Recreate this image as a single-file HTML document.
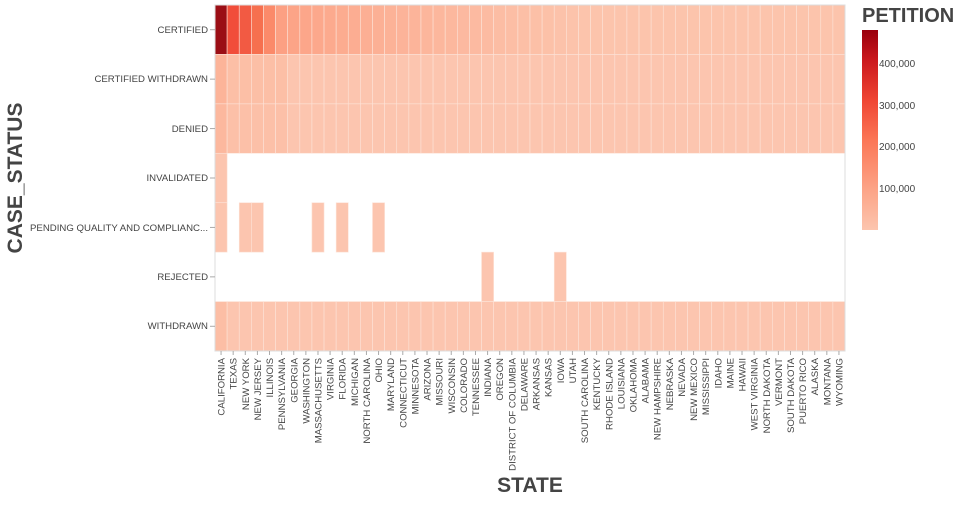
<!DOCTYPE html>
<html><head><meta charset="utf-8"><style>
body{margin:0;background:#fff;width:960px;height:500px;overflow:hidden}
svg{font-family:"Liberation Sans",sans-serif}
.xl{font-size:9.6px;fill:#444}
.yl{font-size:9.6px;fill:#444}
</style></head><body>
<svg id="s" width="960" height="500" xmlns="http://www.w3.org/2000/svg">
<defs><linearGradient id="cb" x1="0" y1="1" x2="0" y2="0">
<stop offset="0" stop-color="#fcc5ae"/><stop offset="0.2" stop-color="#fca487"/><stop offset="0.45" stop-color="#fb7656"/><stop offset="0.65" stop-color="#ef4533"/><stop offset="0.85" stop-color="#cb181d"/><stop offset="1" stop-color="#99000d"/></linearGradient></defs>
<g id="cells"></g>
<rect x="215" y="5" width="630" height="346" fill="none" stroke="#ddd" stroke-width="1"/>
<g id="ticks" stroke="#aaa" stroke-width="1"></g>
<g id="xlabels">
<text class="xl">CALIFORNIA</text><text class="xl">TEXAS</text><text class="xl">NEW YORK</text><text class="xl">NEW JERSEY</text><text class="xl">ILLINOIS</text><text class="xl">PENNSYLVANIA</text><text class="xl">GEORGIA</text><text class="xl">WASHINGTON</text><text class="xl">MASSACHUSETTS</text><text class="xl">VIRGINIA</text><text class="xl">FLORIDA</text><text class="xl">MICHIGAN</text><text class="xl">NORTH CAROLINA</text><text class="xl">OHIO</text><text class="xl">MARYLAND</text><text class="xl">CONNECTICUT</text><text class="xl">MINNESOTA</text><text class="xl">ARIZONA</text><text class="xl">MISSOURI</text><text class="xl">WISCONSIN</text><text class="xl">COLORADO</text><text class="xl">TENNESSEE</text><text class="xl">INDIANA</text><text class="xl">OREGON</text><text class="xl">DISTRICT OF COLUMBIA</text><text class="xl">DELAWARE</text><text class="xl">ARKANSAS</text><text class="xl">KANSAS</text><text class="xl">IOWA</text><text class="xl">UTAH</text><text class="xl">SOUTH CAROLINA</text><text class="xl">KENTUCKY</text><text class="xl">RHODE ISLAND</text><text class="xl">LOUISIANA</text><text class="xl">OKLAHOMA</text><text class="xl">ALABAMA</text><text class="xl">NEW HAMPSHIRE</text><text class="xl">NEBRASKA</text><text class="xl">NEVADA</text><text class="xl">NEW MEXICO</text><text class="xl">MISSISSIPPI</text><text class="xl">IDAHO</text><text class="xl">MAINE</text><text class="xl">HAWAII</text><text class="xl">WEST VIRGINIA</text><text class="xl">NORTH DAKOTA</text><text class="xl">VERMONT</text><text class="xl">SOUTH DAKOTA</text><text class="xl">PUERTO RICO</text><text class="xl">ALASKA</text><text class="xl">MONTANA</text><text class="xl">WYOMING</text>
</g>
<g id="ylabels" text-anchor="end">
<text class="yl" x="208" y="33">CERTIFIED</text>
<text class="yl" x="208" y="82">CERTIFIED WITHDRAWN</text>
<text class="yl" x="208" y="132">DENIED</text>
<text class="yl" x="208" y="181">INVALIDATED</text>
<text class="yl" x="208" y="231" textLength="178" lengthAdjust="spacingAndGlyphs">PENDING QUALITY AND COMPLIANC...</text>
<text class="yl" x="208" y="280">REJECTED</text>
<text class="yl" x="208" y="329">WITHDRAWN</text>
</g>
<text x="530" y="492" text-anchor="middle" font-size="21" font-weight="bold" fill="#444">STATE</text>
<text transform="translate(22,178) rotate(-90)" text-anchor="middle" font-size="21" font-weight="bold" fill="#444">CASE_STATUS</text>
<text x="862" y="22" font-size="20" font-weight="bold" fill="#444">PETITION</text>
<rect x="862" y="30" width="16" height="200" fill="url(#cb)"/>
<g font-size="10" fill="#444">
<text x="879" y="67">400,000</text><text x="879" y="109">300,000</text><text x="879" y="150">200,000</text><text x="879" y="192">100,000</text>
</g>
</svg>
<script>
var N=52,x0=215,w=630/N,y0=5,h=346/7,g=document.getElementById('cells'),tk=document.getElementById('ticks');
var NS='http://www.w3.org/2000/svg';
function hex(c){return '#'+c.map(v=>Math.round(v).toString(16).padStart(2,'0')).join('')}
function lerp(a,b,t){return a.map((v,i)=>v+(b[i]-v)*t)}
var cert=['#9b0e15','#f14d3a','#f25a43','#f6704f','#fb8a6a'];
var A=[252,160,131],B=[252,196,172];
for(var i=5;i<N;i++){var t=Math.min(1,(i-5)/25);cert.push(hex(lerp(A,B,Math.pow(t,0.7))));}
var base='#fcc5af';
var pend=[0,2,3,8,10,13],rej=[22,28];
function cell(i,r,c){var e=document.createElementNS(NS,'rect');e.setAttribute('x',x0+i*w);e.setAttribute('y',y0+r*h);e.setAttribute('width',w);e.setAttribute('height',h);e.setAttribute('fill',c);e.setAttribute('stroke','#fde3d8');e.setAttribute('stroke-width','0.6');g.appendChild(e);}
function line(a,b,c,d){var e=document.createElementNS(NS,'line');e.setAttribute('x1',a);e.setAttribute('y1',b);e.setAttribute('x2',c);e.setAttribute('y2',d);tk.appendChild(e);}
for(var i=0;i<N;i++){
cell(i,0,cert[i]);
cell(i,1,i==0?'#fcb499':(i<6?'#fcbfa6':base));
cell(i,2,i==0?'#fcb89e':(i<6?'#fcc0a8':base));
if(i==0)cell(i,3,base);
if(pend.indexOf(i)>=0)cell(i,4,base);
if(rej.indexOf(i)>=0)cell(i,5,base);
cell(i,6,i==0?'#fcbea5':base);
var cx=x0+w*(i+0.5);line(cx,351,cx,355);
}
for(var r=0;r<7;r++){var cy=y0+h*(r+0.5);line(210,cy,215,cy);}
var xl=document.querySelectorAll('.xl');
xl.forEach(function(t,i){var cx=x0+w*(i+0.5)+3.5;t.setAttribute('text-anchor','end');t.setAttribute('transform','translate('+cx+',358) rotate(-90)');});
</script>
</body></html>
